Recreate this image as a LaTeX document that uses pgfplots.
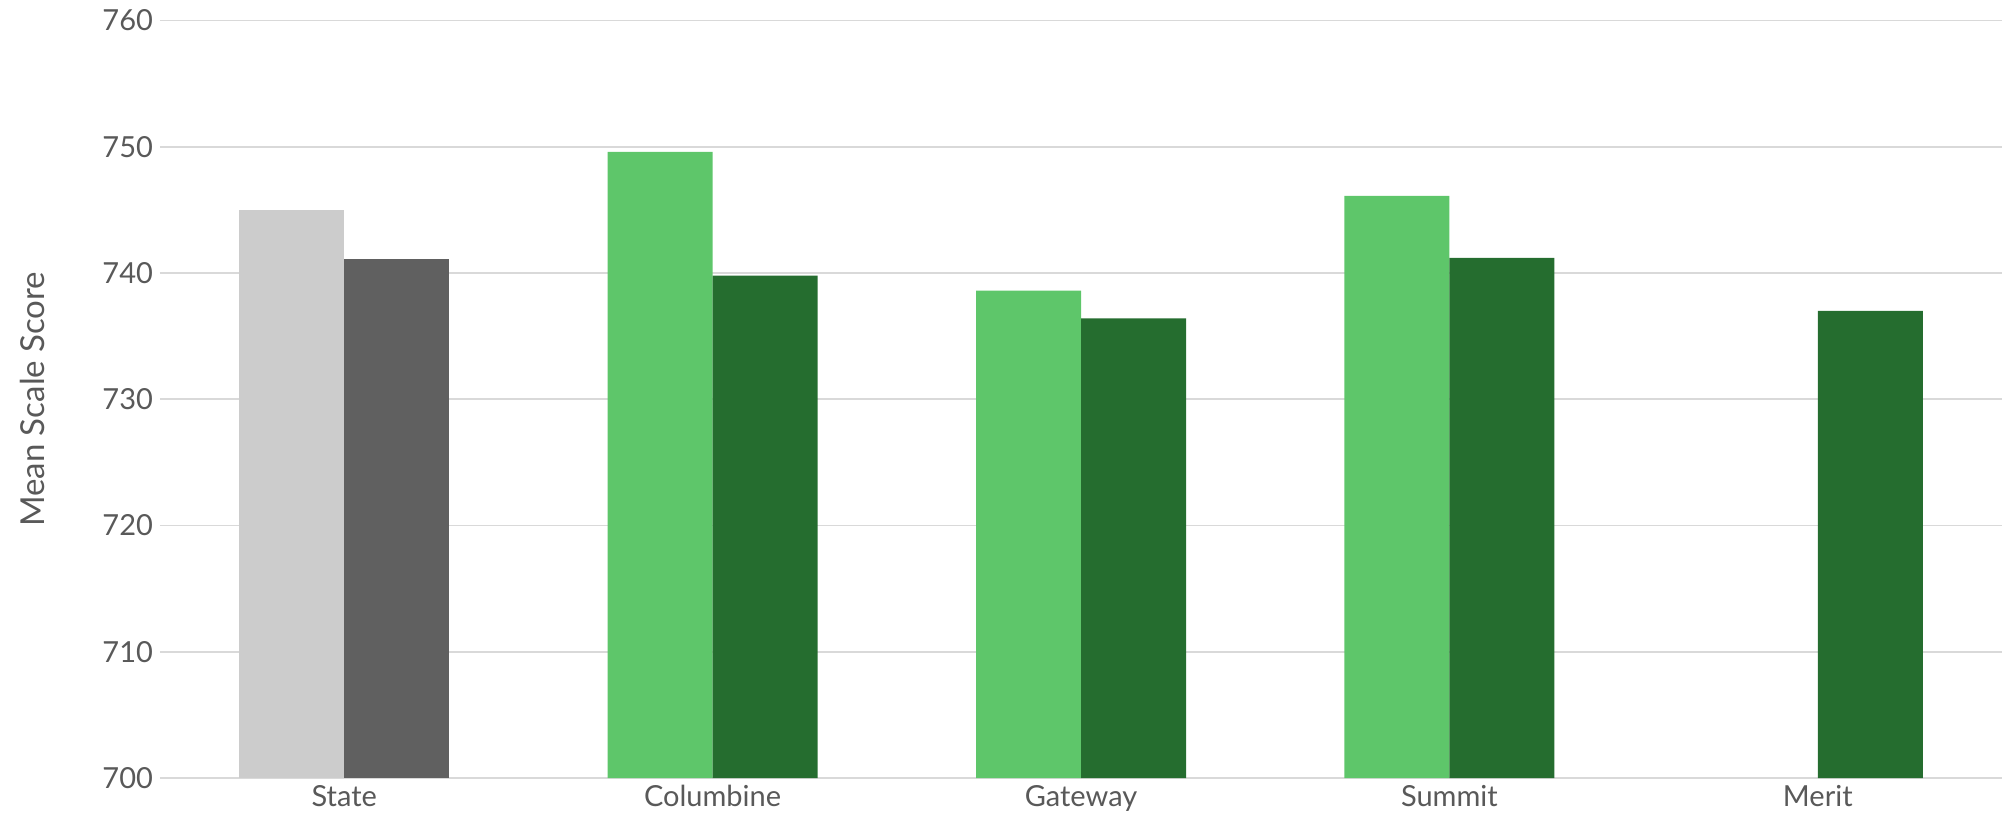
\documentclass[border=0pt]{standalone}
\usepackage{pgfplots}
\pgfplotsset{compat=1.18}
\usepackage{fontspec}
\setmainfont{Lato}
\definecolor{lgray}{HTML}{CCCCCC}
\definecolor{dgray}{HTML}{606060}
\definecolor{lgreen}{HTML}{5EC66A}
\definecolor{dgreen}{HTML}{256D2F}
\definecolor{txt}{HTML}{595959}
\definecolor{gridc}{HTML}{D9D9D9}
\begin{document}
\begin{tikzpicture}
\begin{axis}[
  at={(0,0)}, anchor=south west,
  scale only axis,
  width=921pt, height=378.75pt,
  xmin=-0.5, xmax=4.5,
  ymin=700, ymax=760,
  ytick={700,710,...,760},
  xtick={0,1,2,3,4},
  xticklabels={State,Columbine,Gateway,Summit,Merit},
  ybar, bar width=0.285,
  axis line style={draw=none},
  tick style={draw=none},
  xmajorgrids=false,
  ymajorgrids=true,
  major grid style={draw=gridc, line width=0.8pt},
  tick label style={font=\fontsize{14.5}{16}\selectfont, text=txt},
  /pgf/number format/assume math mode=true,
  ylabel={Mean Scale Score},
  every axis y label/.style={at={(axis description cs:0,0.5)}, xshift=-64pt, rotate=90, anchor=center, font=\fontsize{16.5}{18}\selectfont, text=txt},
  xticklabel style={yshift=4pt},
]
\addplot[fill=lgray, draw=none, bar shift=-0.1425] coordinates {(0,745.0)};
\addplot[fill=dgray, draw=none, bar shift=0.1425] coordinates {(0,741.1)};
\addplot[fill=lgreen, draw=none, bar shift=-0.1425] coordinates {(1,749.6) (2,738.6) (3,746.1)};
\addplot[fill=dgreen, draw=none, bar shift=0.1425] coordinates {(1,739.8) (2,736.4) (3,741.2) (4,737.0)};
\end{axis}
\pgfresetboundingbox
\path[use as bounding box] (-80pt,-20.5pt) rectangle (923pt,389pt);
\end{tikzpicture}
\end{document}
